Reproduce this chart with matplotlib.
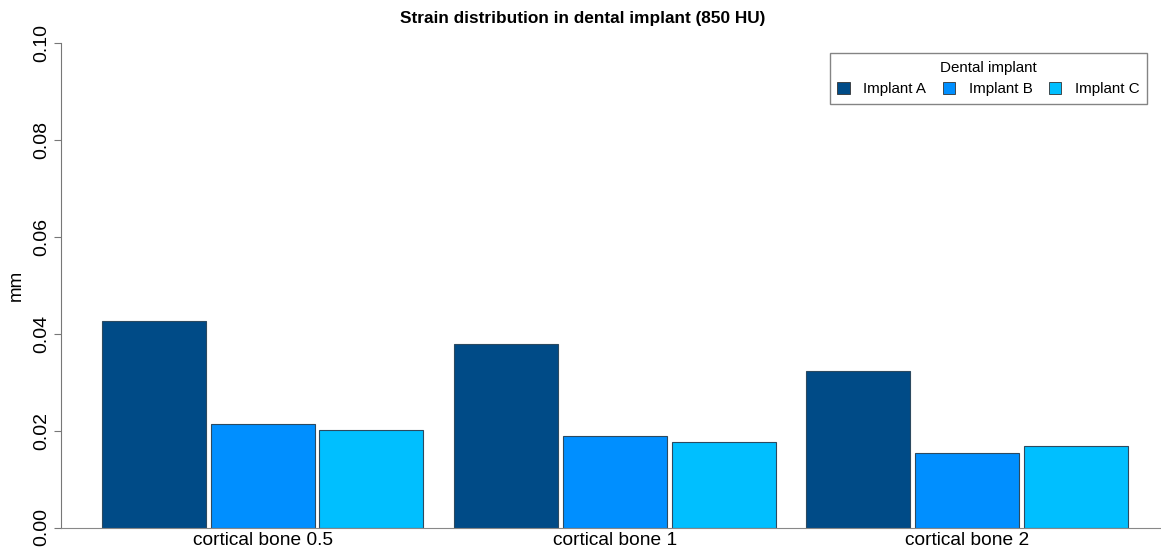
import matplotlib

matplotlib.use("Agg")
import matplotlib.pyplot as plt
import numpy as np

plt.rcParams["font.family"] = ["Liberation Sans", "DejaVu Sans"]

CATEGORIES = ["cortical bone 0.5", "cortical bone 1", "cortical bone 2"]
SERIES = ["Implant A", "Implant B", "Implant C"]
IMPLANT_A = [0.0426, 0.0379, 0.0324]
IMPLANT_B = [0.0214, 0.0188, 0.0154]
IMPLANT_C = [0.0202, 0.0176, 0.0168]
COLORS = ["#004B87", "#008FFF", "#00BFFF"]
Y_TICKS = [0.00, 0.02, 0.04, 0.06, 0.08, 0.10]

fig = plt.figure(figsize=(11.61, 5.54), dpi=100)
ax = fig.add_axes([61 / 1161, 26.5 / 554, 1100 / 1161, 484.2 / 554])

x = np.arange(len(CATEGORIES))
pitch = 0.309
width = 0.295
for i, (vals, name, col) in enumerate(zip([IMPLANT_A, IMPLANT_B, IMPLANT_C], SERIES, COLORS)):
    ax.bar(x + (i - 1) * pitch, vals, width=width, color=col, edgecolor="#2c4a60",
           linewidth=0.8, label=name)

ax.set_xlim(-0.572, 2.55)
ax.set_ylim(0, 0.10)
ax.set_yticks(Y_TICKS)
ax.set_yticklabels([f"{t:.2f}" for t in Y_TICKS], rotation=90, va="center", fontsize=14)
ax.set_xticks(x)
ax.set_xticklabels(CATEGORIES, fontsize=13.8)
ax.tick_params(axis="x", length=0, pad=3)
ax.tick_params(axis="y", length=5, color="#777777", pad=3)

for s in ["top", "right"]:
    ax.spines[s].set_visible(False)
ax.spines["left"].set_color("#777777")
ax.spines["bottom"].set_color("#888888")
ax.spines["left"].set_bounds(0, 0.10)

ax.set_ylabel("mm", fontsize=13.5, labelpad=6)
fig.text(0.502, 0.967, "Strain distribution in dental implant (850 HU)",
         ha="center", va="center", fontsize=12.4, fontweight="bold")

leg = ax.legend(title="Dental implant", ncol=3, loc="upper right",
                bbox_to_anchor=(1147 / 1161, 1 - 53 / 554), bbox_transform=fig.transFigure,
                fontsize=10.9, title_fontsize=10.9, frameon=True, fancybox=False,
                handlelength=0.8, handleheight=0.8, handletextpad=0.9, columnspacing=1.1,
                borderpad=0.5, borderaxespad=0)
leg.get_frame().set_edgecolor("#666666")
leg.get_frame().set_linewidth(1.0)
for h in leg.legend_handles:
    h.set_edgecolor("#333333")
    h.set_linewidth(0.6)

fig.savefig("out.png", dpi=100)
